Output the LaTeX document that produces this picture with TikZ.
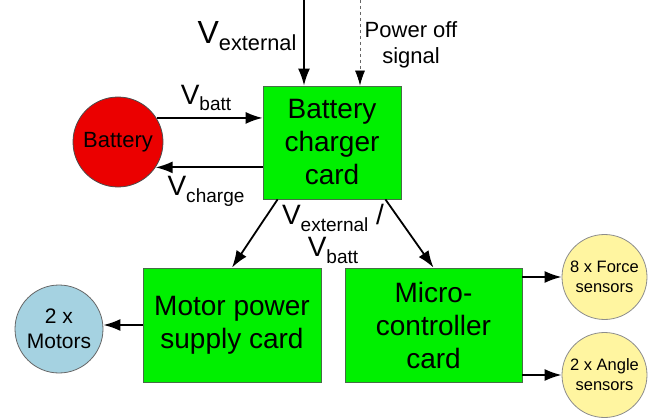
\documentclass[tikz,border=0pt]{standalone}
\usepackage{fontspec}
\setmainfont{Liberation Sans}
\usepackage{tikz}
\usetikzlibrary{arrows.meta, positioning}

\definecolor{cardgreen}{RGB}{0,240,0}
\definecolor{cardedge}{RGB}{70,110,70}
\definecolor{battred}{RGB}{235,0,0}
\definecolor{motorblue}{RGB}{165,210,225}
\definecolor{sensyellow}{RGB}{255,245,160}

\newcommand{\volt}[1]{V\raisebox{-0.24em}{\scalebox{0.68}{#1}}}

\begin{document}
\begin{tikzpicture}[
    x=1pt, y=-1pt,
    card/.style={draw=cardedge, line width=0.8pt, fill=cardgreen, align=center, inner sep=0pt,
      font=\fontsize{28}{33}\selectfont},
    battery/.style={circle, draw=black!70, line width=0.8pt, fill=battred, minimum size=90pt,
      inner sep=0pt, font=\fontsize{22}{26}\selectfont},
    motors/.style={circle, draw=black!60, line width=0.8pt, fill=motorblue, minimum size=88pt,
      inner sep=0pt, align=center, font=\fontsize{21}{25}\selectfont},
    sensor/.style={circle, draw=black!45, line width=0.8pt, fill=sensyellow, minimum size=85pt,
      inner sep=0pt, align=center, font=\fontsize{16.5}{20}\selectfont},
    lbl/.style={align=center, inner sep=0pt, font=\fontsize{28}{32}\selectfont},
    arrow/.style={-{Latex[length=17pt, width=12pt]}, line width=1.8pt},
    dashedarrow/.style={-{Latex[length=15pt, width=10pt, black]}, line width=0.8pt, dashed, black!60}
]
\useasboundingbox (0,0) rectangle (657,420);

% cards
\node[card, minimum width=138pt, minimum height=113pt] (charger) at (332,142.5) {Battery\\charger\\card};
\node[card, minimum width=178pt, minimum height=114pt] (motorcard) at (232,325) {Motor power\\supply card};
\node[card, minimum width=177pt, minimum height=114pt] (microcard) at (433.5,325) {Micro-\\controller\\card};

% round parts
\node[battery] (battery) at (118,142) {Battery};
\node[motors] (motors) at (59,329) {2 x\\Motors};
\node[sensor] (force) at (604.5,277) {8 x Force\\sensors};
\node[sensor] (angle) at (604.5,375) {2 x Angle\\sensors};

% free ends at the top
\coordinate (vext) at (304,0);
\coordinate (poff) at (360,0);

\draw[arrow] (vext) -- (vext |- charger.north);
\draw[dashedarrow] (poff) -- (poff |- charger.north);
\draw[arrow] (battery.32) -- (battery.32 -| charger.west);
\draw[arrow] (charger.west |- battery.-34) -- (battery.-34);
\draw[arrow] ([xshift=15pt]charger.south west) -- (motorcard.north);
\draw[arrow] ([xshift=-16pt]charger.south east) -- (microcard.north);
\draw[arrow] (motorcard.west) -- (motorcard.west -| motors.east);
\draw[arrow] (microcard.east |- force) -- (force.west);
\draw[arrow] (microcard.east |- angle) -- (angle.west);

% labels
\node[lbl, font=\fontsize{32}{36}\selectfont] (vextlbl) at (247,36) {\volt{external}};
\node[lbl, font=\fontsize{22}{26}\selectfont] (pofflbl) at (411,45) {Power off\\signal};
\node[lbl] (vbattlbl) at (206,98) {\volt{batt}};
\node[lbl] (vchargelbl) at (206,191) {\volt{charge}};
\node[lbl] (vsupplylbl) at (333,234) {\volt{external} /\\\volt{batt}};

\end{tikzpicture}
\end{document}
